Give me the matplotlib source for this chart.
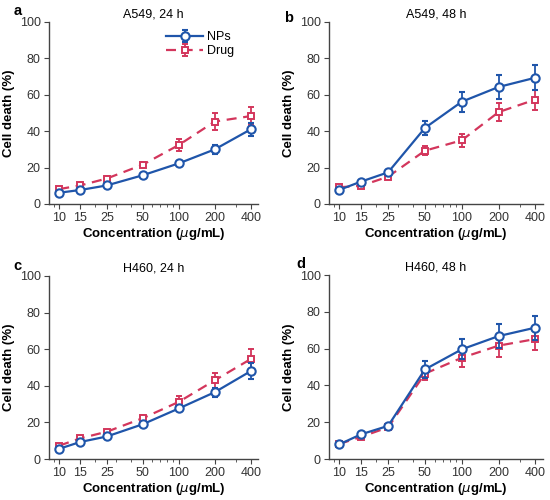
import numpy as np
import matplotlib.pyplot as plt
from matplotlib.ticker import FixedLocator, NullFormatter

# concentrations (ug/mL)
conc = [10, 15, 25, 50, 100, 200, 400]
conc_labels = ["10", "15", "25", "50", "100", "200", "400"]

# panel a: A549, 24 h
a_nps = [6.2, 7.7, 10.2, 15.8, 22.3, 30.0, 41.0]
a_nps_err = [1.0, 1.0, 1.0, 1.0, 1.5, 2.5, 3.7]
a_drug = [8.2, 10.2, 14.0, 21.6, 32.4, 45.3, 48.3]
a_drug_err = [1.0, 1.0, 1.2, 1.5, 3.5, 4.5, 5.0]

# panel b: A549, 48 h
b_nps = [7.8, 12.3, 17.4, 41.8, 56.2, 64.3, 69.4]
b_nps_err = [1.0, 1.0, 1.2, 4.0, 5.5, 6.5, 6.8]
b_drug = [9.2, 10.0, 15.0, 29.3, 35.0, 50.5, 57.4]
b_drug_err = [1.0, 1.0, 1.0, 2.5, 3.5, 5.0, 5.5]

# panel c: H460, 24 h
c_nps = [5.6, 9.3, 12.3, 19.0, 27.6, 36.5, 48.0]
c_nps_err = [1.0, 1.0, 1.0, 1.0, 1.5, 2.5, 4.5]
c_drug = [7.3, 11.3, 14.9, 22.3, 31.2, 43.0, 54.6]
c_drug_err = [1.0, 1.0, 1.0, 1.5, 3.0, 4.0, 5.5]

# panel d: H460, 48 h
d_nps = [8.0, 13.4, 18.0, 48.7, 59.6, 66.8, 71.4]
d_nps_err = [1.0, 1.0, 1.2, 4.5, 5.5, 6.5, 6.5]
d_drug = [8.2, 12.0, 17.2, 46.4, 55.0, 61.6, 65.2]
d_drug_err = [1.0, 1.0, 1.0, 3.5, 5.0, 6.0, 6.0]

# letter, title, data, axes rect, letter position (figure coords)
panels = [
    ("a", "A549, 24 h", a_nps, a_nps_err, a_drug, a_drug_err, [0.089, 0.592, 0.380, 0.364], (0.024, 0.992)),
    ("b", "A549, 48 h", b_nps, b_nps_err, b_drug, b_drug_err, [0.598, 0.592, 0.389, 0.364], (0.517, 0.978)),
    ("c", "H460, 24 h", c_nps, c_nps_err, c_drug, c_drug_err, [0.089, 0.082, 0.380, 0.366], (0.024, 0.482)),
    ("d", "H460, 48 h", d_nps, d_nps_err, d_drug, d_drug_err, [0.598, 0.082, 0.389, 0.368], (0.539, 0.486)),
]

BLUE = "#1f55aa"
RED = "#d3365c"

plt.rcParams['font.family'] = ['Liberation Sans', 'DejaVu Sans']

fig = plt.figure(figsize=(5.5, 5.0), dpi=100)

for letter, title, nps, nps_err, drug, drug_err, pos, lpos in panels:
    ax = fig.add_axes(pos)
    ax.errorbar(conc, drug, yerr=drug_err, color=RED, ls=(0, (4.5, 3)), lw=1.6,
                marker="s", ms=4.5, mfc="white", mec=RED, mew=1.4,
                capsize=2.2, elinewidth=1.3, capthick=1.3, label="Drug", zorder=2)
    ax.errorbar(conc, nps, yerr=nps_err, color=BLUE, ls="-", lw=1.6,
                marker="o", ms=6, mfc="white", mec=BLUE, mew=1.5,
                capsize=2.2, elinewidth=1.3, capthick=1.3, label="NPs", zorder=3)
    ax.set_xscale("log")
    ax.set_xlim(8.2, 460)
    ax.set_ylim(0, 100)
    ax.set_yticks([0, 20, 40, 60, 80, 100])
    ax.xaxis.set_major_locator(FixedLocator(conc))
    ax.set_xticklabels(conc_labels)
    minors = [m for m in [9] + list(range(20, 100, 10)) + list(range(100, 500, 100))
              if m not in conc]
    ax.xaxis.set_minor_locator(FixedLocator(minors))
    ax.xaxis.set_minor_formatter(NullFormatter())
    ax.spines["top"].set_visible(False)
    ax.spines["right"].set_visible(False)
    for s in ("left", "bottom"):
        ax.spines[s].set_color("#444444")
        ax.spines[s].set_linewidth(1.0)
    ax.tick_params(axis="both", which="major", labelsize=9, colors="#444444",
                   labelcolor="#333333", length=3.5, direction="out", pad=2.5)
    ax.tick_params(axis="x", which="minor", length=2.2, colors="#444444")
    ax.set_xlabel("Concentration ($\\mu$g/mL)", fontsize=9.5, fontweight="bold", labelpad=1)
    ax.set_ylabel("Cell death (%)", fontsize=9.5, fontweight="bold", labelpad=3)
    ax.set_title(title, fontsize=9, pad=3)
    fig.text(lpos[0], lpos[1], letter, fontsize=10.5, fontweight="bold",
             ha="left", va="top")
    if letter == "a":
        h, l = ax.get_legend_handles_labels()
        ax.legend(h[::-1], l[::-1], loc="upper right", frameon=False, fontsize=9,
                  handlelength=3.0, handletextpad=0.25, borderaxespad=0.2,
                  labelspacing=0.15, bbox_to_anchor=(0.92, 0.99))

fig.savefig("out.png", dpi=100)
